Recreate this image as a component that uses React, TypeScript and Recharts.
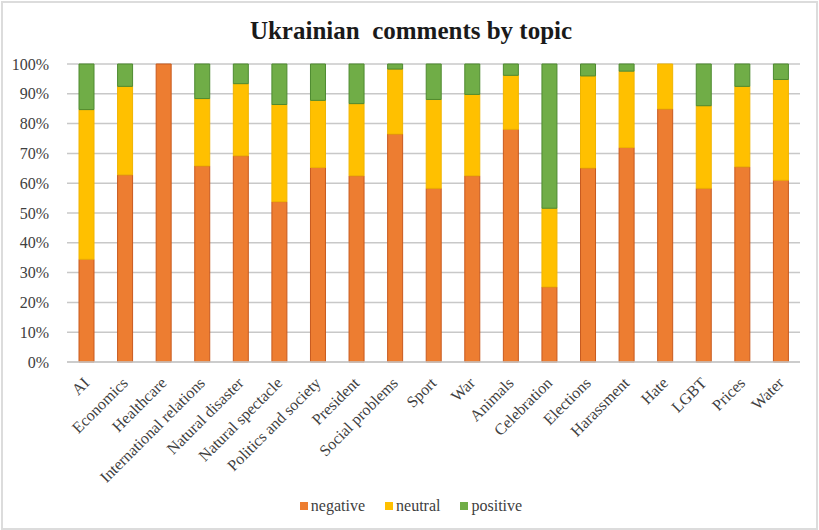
import React from 'react';
import { BarChart, Bar, XAxis, YAxis, CartesianGrid, Legend } from 'recharts';

const categories = ['AI', 'Economics', 'Healthcare', 'International relations', 'Natural disaster', 'Natural spectacle', 'Politics and society', 'President', 'Social problems', 'Sport', 'War', 'Animals', 'Celebration', 'Elections', 'Harassment', 'Hate', 'LGBT', 'Prices', 'Water'];
const negative = [34.5, 62.8, 100, 65.8, 69.2, 53.8, 65.3, 62.5, 76.5, 58.3, 62.5, 78.1, 25.2, 65.1, 72.0, 84.9, 58.3, 65.5, 61.0];
const neutral = [50.2, 29.7, 0, 22.6, 24.2, 32.6, 22.5, 24.2, 21.8, 29.8, 27.3, 18.1, 26.4, 30.9, 25.6, 15.1, 27.7, 27.0, 33.8];
const positive = [15.3, 7.5, 0, 11.6, 6.6, 13.6, 12.2, 13.3, 1.7, 11.9, 10.2, 3.8, 48.4, 4.0, 2.4, 0, 14.0, 7.5, 5.2];
const yTicks = [0, 10, 20, 30, 40, 50, 60, 70, 80, 90, 100];

const data = categories.map((c, i) => ({ topic: c, negative: negative[i], neutral: neutral[i], positive: positive[i] }));

const FONT = "'Liberation Serif', 'Times New Roman', serif";

const XTick = (props: any) => {
  const { x, y, payload } = props;
  const ax = x + 4;
  const ay = y + 14;
  return (
    <text x={ax} y={ay} textAnchor="end" fontFamily={FONT} fontSize={16} fill="#404040" transform={`rotate(-45, ${ax}, ${ay})`}>
      {payload.value}
    </text>
  );
};

const renderLegend = (props: any) => {
  const { payload } = props;
  return (
    <div style={{ display: 'flex', justifyContent: 'center', gap: 20, fontFamily: FONT, fontSize: 16, color: '#404040' }}>
      {(payload || []).map((p: any) => (
        <div key={p.value} style={{ display: 'flex', alignItems: 'center', gap: 3, fontFamily: FONT }}>
          <span style={{ display: 'inline-block', width: 8, height: 8, background: p.color }} />
          <span style={{ fontFamily: FONT }}>{p.value}</span>
        </div>
      ))}
    </div>
  );
};

export default function App() {
  return (
    <div style={{ position: 'absolute', left: 0, top: 0, width: 819, height: 530, background: '#fff', fontFamily: FONT }}>
      <div style={{ position: 'absolute', left: 1, top: 1, width: 813, height: 525, border: '2px solid #dcdcdc', boxSizing: 'content-box' }} />
      <div style={{ position: 'absolute', left: 0, top: 17, width: 822, textAlign: 'center', fontFamily: FONT, fontWeight: 'bold', fontSize: 25, color: '#1a1a1a', whiteSpace: 'pre' }}>
        {'Ukrainian  comments by topic'}
      </div>
      <BarChart width={819} height={530} data={data} margin={{ top: 64, right: 19, left: 0, bottom: 40 }} barSize={15} style={{ fontFamily: FONT }}>
        <CartesianGrid vertical={false} stroke="#c8c8c8" strokeWidth={1.5} />
        <XAxis dataKey="topic" interval={0} tick={<XTick />} tickLine={false} axisLine={{ stroke: '#c8c8c8', strokeWidth: 1.5 }} height={110} />
        <YAxis domain={[0, 100]} ticks={yTicks} width={67} tickFormatter={(v: number) => `${v}%`} axisLine={false} tickLine={false} tick={{ fontFamily: FONT, fontSize: 16, fill: '#404040' }} tickMargin={12} />
        <Legend content={renderLegend} wrapperStyle={{ position: 'absolute', top: 497, left: 0, width: 822, fontFamily: FONT }} />
        <Bar dataKey="negative" stackId="a" fill="#ED7D31" stroke="#C85A1E" strokeWidth={1} isAnimationActive={false} />
        <Bar dataKey="neutral" stackId="a" fill="#FFC000" stroke="#F0B400" strokeWidth={1} isAnimationActive={false} />
        <Bar dataKey="positive" stackId="a" fill="#70AD47" stroke="#4E8A30" strokeWidth={1} isAnimationActive={false} />
      </BarChart>
    </div>
  );
}
